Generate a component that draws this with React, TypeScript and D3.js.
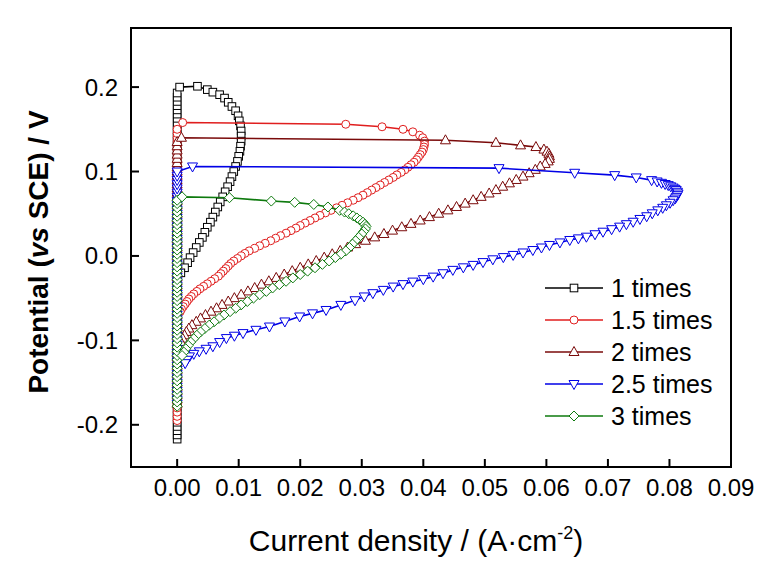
import * as d3 from "d3";

const WIDTH = 768;
const HEIGHT = 566;
const FRAME = { left: 131, right: 731, top: 28, bottom: 467 };
const FONT = "'Liberation Sans', Arial, Helvetica, sans-serif";

const X_DOMAIN: [number, number] = [-0.0075, 0.09];
const Y_DOMAIN: [number, number] = [-0.25, 0.27];
const X_TICKS = [0, 0.01, 0.02, 0.03, 0.04, 0.05, 0.06, 0.07, 0.08, 0.09];
const Y_TICKS = [-0.2, -0.1, 0, 0.1, 0.2];

const LABELS = ["1 times", "1.5 times", "2 times", "2.5 times", "3 times"];
const COLORS = ["#000000", "#e01e1e", "#7a0a0a", "#0000e6", "#0e7a0e"];
const SHAPES = ["square", "circle", "triangle", "triangleDown", "diamond"];

// potentials of the near-zero-current column (x ~ 0), bottom to top
const col1 = [-0.217, -0.212, -0.207, -0.202, -0.197, -0.192, -0.187, -0.182, -0.177, -0.172, -0.167, -0.162, -0.157, -0.152, -0.147, -0.142, -0.137, -0.132, -0.127, -0.122, -0.117, -0.112, -0.107, -0.102, -0.097, -0.092, -0.087, -0.082, -0.077, -0.072, -0.067, -0.062, -0.057, -0.052, -0.047, -0.042, -0.037, -0.032, -0.027, -0.022, -0.017, -0.012, -0.007, -0.002, 0.003, 0.008, 0.013, 0.018, 0.023, 0.028, 0.033, 0.038, 0.043, 0.048, 0.053, 0.058, 0.063, 0.068, 0.073, 0.078, 0.083, 0.088, 0.093, 0.098, 0.103, 0.108, 0.113, 0.118, 0.123, 0.128, 0.133, 0.138, 0.143, 0.148, 0.153, 0.158, 0.163, 0.168, 0.173, 0.178, 0.183, 0.188, 0.193];
const col15 = [-0.195, -0.19, -0.185, -0.18, -0.175, -0.17, -0.165, -0.16, -0.155, -0.15, -0.145, -0.14, -0.135, -0.13, -0.125, -0.12, -0.115, -0.11, -0.105, -0.1, -0.095, -0.09, -0.085, -0.08, -0.075, -0.07, -0.065, -0.06, -0.055, -0.05, -0.045, -0.04, -0.035, -0.03, -0.025, -0.02, -0.015, -0.01, -0.005, 0, 0.005, 0.01, 0.015, 0.02, 0.025, 0.03, 0.035, 0.04, 0.045, 0.05, 0.055, 0.06, 0.065, 0.07, 0.075, 0.08, 0.085, 0.09, 0.095, 0.1, 0.105, 0.11, 0.115, 0.12, 0.125, 0.13, 0.135, 0.14, 0.145, 0.15];
const col2 = [-0.175, -0.17, -0.165, -0.16, -0.155, -0.15, -0.145, -0.14, -0.135, -0.13, -0.125, -0.12, -0.115, -0.11, -0.105, -0.1, -0.095, -0.09, -0.085, -0.08, -0.075, -0.07, -0.065, -0.06, -0.055, -0.05, -0.045, -0.04, -0.035, -0.03, -0.025, -0.02, -0.015, -0.01, -0.005, 0, 0.005, 0.01, 0.015, 0.02, 0.025, 0.03, 0.035, 0.04, 0.045, 0.05, 0.055, 0.06, 0.065, 0.07, 0.075, 0.08, 0.085, 0.09, 0.095, 0.1, 0.105, 0.11, 0.115, 0.12, 0.125, 0.13, 0.135];
const col25 = [-0.175, -0.17, -0.165, -0.16, -0.155, -0.15, -0.145, -0.14, -0.135, -0.13, -0.125, -0.12, -0.115, -0.11, -0.105, -0.1, -0.095, -0.09, -0.085, -0.08, -0.075, -0.07, -0.065, -0.06, -0.055, -0.05, -0.045, -0.04, -0.035, -0.03, -0.025, -0.02, -0.015, -0.01, -0.005, 0, 0.005, 0.01, 0.015, 0.02, 0.025, 0.03, 0.035, 0.04, 0.045, 0.05, 0.055, 0.06, 0.065, 0.07, 0.075, 0.08, 0.085, 0.09, 0.095, 0.1];
const col3 = [-0.178, -0.173, -0.168, -0.163, -0.158, -0.153, -0.148, -0.143, -0.138, -0.133, -0.128, -0.123, -0.118, -0.113, -0.108, -0.103, -0.098, -0.093, -0.088, -0.083, -0.078, -0.073, -0.068, -0.063, -0.058, -0.053, -0.048, -0.043, -0.038, -0.033, -0.028, -0.023, -0.018, -0.013, -0.008, -0.003, 0.002, 0.007, 0.012, 0.017, 0.022, 0.027, 0.032, 0.037, 0.042, 0.047, 0.052, 0.057, 0.062, 0.066];

// the loop after the column: [current density, potential]
const loop1: [number, number][] = [[0.0004, 0.2], [0.0033, 0.201], [0.0049, 0.197], [0.0058, 0.194], [0.0069, 0.191], [0.0077, 0.187], [0.0083, 0.182], [0.0089, 0.177], [0.0095, 0.172], [0.0099, 0.166], [0.0101, 0.16], [0.0103, 0.154], [0.0104, 0.148], [0.0104, 0.142], [0.0104, 0.136], [0.0103, 0.13], [0.0102, 0.124], [0.01, 0.118], [0.0098, 0.112], [0.0095, 0.106], [0.0092, 0.1], [0.0089, 0.094], [0.0086, 0.088], [0.0082, 0.082], [0.0078, 0.076], [0.0074, 0.07], [0.007, 0.064], [0.0066, 0.058], [0.0062, 0.052], [0.0058, 0.046], [0.0054, 0.04], [0.0049, 0.034], [0.0045, 0.028], [0.0041, 0.022], [0.0036, 0.016], [0.0031, 0.01], [0.0026, 0.004], [0.0021, -0.002], [0.0017, -0.008], [0.0012, -0.014], [0.0006, -0.02]];
const loop15: [number, number][] = [[0.0009, 0.158], [0.0274, 0.156], [0.0333, 0.153], [0.0367, 0.15], [0.0383, 0.147], [0.0394, 0.143], [0.0399, 0.14], [0.0402, 0.136], [0.0402, 0.132], [0.0401, 0.129], [0.04, 0.126], [0.0398, 0.123], [0.0395, 0.12], [0.0392, 0.117], [0.0389, 0.114], [0.0385, 0.111], [0.038, 0.108], [0.0375, 0.105], [0.037, 0.102], [0.0364, 0.099], [0.0357, 0.096], [0.0351, 0.093], [0.0344, 0.09], [0.0337, 0.087], [0.033, 0.084], [0.0323, 0.081], [0.0316, 0.078], [0.0309, 0.075], [0.0302, 0.072], [0.0294, 0.069], [0.0286, 0.066], [0.0277, 0.063], [0.0268, 0.06], [0.0259, 0.057], [0.025, 0.054], [0.0241, 0.051], [0.0232, 0.048], [0.0224, 0.045], [0.0216, 0.042], [0.0208, 0.039], [0.02, 0.036], [0.0193, 0.033], [0.0185, 0.03], [0.0177, 0.027], [0.0168, 0.024], [0.016, 0.021], [0.0152, 0.018], [0.0143, 0.015], [0.0134, 0.012], [0.0126, 0.009], [0.0117, 0.006], [0.011, 0.003], [0.0104, 0], [0.0098, -0.003], [0.0092, -0.006], [0.0087, -0.009], [0.0083, -0.012], [0.0079, -0.015], [0.0075, -0.018], [0.0071, -0.021], [0.0067, -0.024], [0.0061, -0.027], [0.0055, -0.03], [0.0049, -0.033], [0.0043, -0.036], [0.0037, -0.039], [0.0032, -0.042], [0.0027, -0.045], [0.0023, -0.048], [0.0019, -0.051], [0.0016, -0.054], [0.0013, -0.057], [0.001, -0.06], [0.0007, -0.063], [0.0005, -0.066]];
const loop2: [number, number][] = [[0.0007, 0.14], [0.0436, 0.137], [0.0518, 0.134], [0.0558, 0.131], [0.0583, 0.129], [0.0596, 0.126], [0.0601, 0.1235], [0.0604, 0.121], [0.0605, 0.118], [0.0605, 0.115], [0.0603, 0.112], [0.0598, 0.109], [0.059, 0.106], [0.0582, 0.102], [0.0572, 0.098], [0.0562, 0.094], [0.0551, 0.09], [0.054, 0.086], [0.0529, 0.082], [0.0518, 0.078], [0.0507, 0.074], [0.0494, 0.07], [0.0481, 0.066], [0.0468, 0.062], [0.0454, 0.058], [0.044, 0.054], [0.0425, 0.05], [0.041, 0.046], [0.0395, 0.042], [0.038, 0.038], [0.0365, 0.034], [0.035, 0.03], [0.0336, 0.026], [0.0321, 0.022], [0.0306, 0.018], [0.029, 0.014], [0.0277, 0.01], [0.0265, 0.006], [0.0252, 0.002], [0.0239, -0.002], [0.0226, -0.006], [0.0213, -0.01], [0.02, -0.014], [0.0187, -0.018], [0.0174, -0.022], [0.0161, -0.026], [0.0149, -0.03], [0.0137, -0.034], [0.0126, -0.038], [0.0115, -0.042], [0.0104, -0.046], [0.0093, -0.05], [0.0083, -0.054], [0.0073, -0.058], [0.0064, -0.062], [0.0055, -0.066], [0.0046, -0.07], [0.0038, -0.074], [0.0031, -0.078], [0.0024, -0.082], [0.0019, -0.086], [0.0015, -0.09], [0.0012, -0.094], [0.0009, -0.098], [0.0006, -0.102]];
const loop25: [number, number][] = [[0.0025, 0.106], [0.0523, 0.104], [0.0646, 0.0985], [0.0711, 0.0957], [0.0746, 0.093], [0.0771, 0.0898], [0.078, 0.0882], [0.0787, 0.0866], [0.0793, 0.0852], [0.0798, 0.0839], [0.0802, 0.0825], [0.0806, 0.081], [0.0809, 0.0795], [0.0811, 0.078], [0.0813, 0.076], [0.0814, 0.074], [0.0813, 0.072], [0.0811, 0.07], [0.0809, 0.068], [0.0806, 0.066], [0.0801, 0.063], [0.0795, 0.06], [0.0789, 0.057], [0.0781, 0.054], [0.0772, 0.0505], [0.0763, 0.047], [0.0752, 0.0438], [0.0741, 0.0405], [0.073, 0.0376], [0.0719, 0.0347], [0.0706, 0.0317], [0.0692, 0.0287], [0.0679, 0.0257], [0.0665, 0.0228], [0.0652, 0.0208], [0.0638, 0.0189], [0.0622, 0.016], [0.0605, 0.013], [0.0592, 0.01], [0.0578, 0.007], [0.0562, 0.0041], [0.0546, 0.0012], [0.053, -0.0014], [0.0513, -0.004], [0.0497, -0.0073], [0.0481, -0.0106], [0.0465, -0.0135], [0.0448, -0.0165], [0.0432, -0.0205], [0.0416, -0.0245], [0.04, -0.0275], [0.0383, -0.0304], [0.0367, -0.0334], [0.0351, -0.0363], [0.0335, -0.0402], [0.0318, -0.0441], [0.0304, -0.048], [0.0289, -0.0525], [0.0266, -0.058], [0.0242, -0.064], [0.022, -0.068], [0.0199, -0.0717], [0.0175, -0.0776], [0.015, -0.0836], [0.0128, -0.0875], [0.0107, -0.0914], [0.0093, -0.0945], [0.008, -0.0973], [0.0069, -0.102], [0.0058, -0.107], [0.0047, -0.11], [0.0036, -0.113], [0.0027, -0.116], [0.002, -0.119], [0.0016, -0.123], [0.0013, -0.127]];
const loop3: [number, number][] = [[0.0008, 0.07], [0.0085, 0.069], [0.0153, 0.065], [0.0191, 0.0635], [0.0222, 0.061], [0.0245, 0.058], [0.0264, 0.054], [0.0272, 0.052], [0.0279, 0.05], [0.0286, 0.0475], [0.0292, 0.045], [0.0297, 0.0425], [0.0302, 0.04], [0.0305, 0.0375], [0.0307, 0.035], [0.0306, 0.032], [0.0303, 0.029], [0.03, 0.026], [0.0295, 0.022], [0.029, 0.018], [0.0285, 0.014], [0.028, 0.01], [0.0274, 0.006], [0.0266, 0.002], [0.0257, -0.002], [0.0247, -0.006], [0.0236, -0.01], [0.0224, -0.014], [0.0212, -0.018], [0.02, -0.022], [0.0188, -0.026], [0.0177, -0.03], [0.0166, -0.034], [0.0155, -0.038], [0.0145, -0.042], [0.0134, -0.046], [0.0124, -0.05], [0.0114, -0.054], [0.0104, -0.058], [0.0095, -0.062], [0.0086, -0.066], [0.0076, -0.07], [0.0068, -0.074], [0.006, -0.078], [0.0052, -0.082], [0.0045, -0.086], [0.0038, -0.09], [0.0032, -0.094], [0.0027, -0.098], [0.0022, -0.102], [0.0018, -0.106], [0.0014, -0.11], [0.0011, -0.114], [0.0008, -0.118]];

const COLUMNS = [col1, col15, col2, col25, col3];
const LOOPS = [loop1, loop15, loop2, loop25, loop3];

function Marker({ shape, x, y, color }: { shape: string; x: number; y: number; color: string }) {
  const common = { fill: "#fff", stroke: color, strokeWidth: 1 };
  if (shape === "square") return <rect x={x - 3.8} y={y - 3.8} width={7.6} height={7.6} {...common} />;
  if (shape === "circle") return <circle cx={x} cy={y} r={4} {...common} />;
  if (shape === "triangle")
    return <polygon points={`${x},${y - 5.5} ${x + 5},${y + 3.5} ${x - 5},${y + 3.5}`} {...common} />;
  if (shape === "triangleDown")
    return <polygon points={`${x},${y + 5.5} ${x + 5},${y - 3.5} ${x - 5},${y - 3.5}`} {...common} />;
  return <polygon points={`${x},${y - 5} ${x + 5},${y} ${x},${y + 5} ${x - 5},${y}`} {...common} />;
}

export default function App() {
  const x = d3.scaleLinear().domain(X_DOMAIN).range([FRAME.left, FRAME.right]);
  const y = d3.scaleLinear().domain(Y_DOMAIN).range([FRAME.bottom, FRAME.top]);

  const series = LABELS.map((label, i) => ({
    label,
    color: COLORS[i],
    shape: SHAPES[i],
    points: [...COLUMNS[i].map((v) => [0, v] as [number, number]), ...LOOPS[i]],
  }));

  const line = d3.line<[number, number]>().x((d) => x(d[0])).y((d) => y(d[1]));

  return (
    <svg width={WIDTH} height={HEIGHT} style={{ position: "absolute", left: 0, top: 0, background: "#fff" }}
      fontFamily={FONT}>
      <rect width={WIDTH} height={HEIGHT} fill="#fff" />

      {/* series */}
      {series.map((s) => (
        <g key={s.label}>
          <path d={line(s.points) ?? ""} fill="none" stroke={s.color} strokeWidth={1.6} />
          {s.points.map((p, j) => (
            <Marker key={j} shape={s.shape} x={x(p[0])} y={y(p[1])} color={s.color} />
          ))}
        </g>
      ))}

      {/* frame */}
      <rect x={FRAME.left} y={FRAME.top} width={FRAME.right - FRAME.left} height={FRAME.bottom - FRAME.top}
        fill="none" stroke="#000" strokeWidth={2} />

      {/* x axis */}
      {X_TICKS.map((t) => (
        <g key={t}>
          <line x1={x(t)} x2={x(t)} y1={FRAME.bottom} y2={FRAME.bottom - 8} stroke="#000" strokeWidth={2} />
          <text x={x(t)} y={496} fontSize={24} textAnchor="middle">{t.toFixed(2)}</text>
        </g>
      ))}

      {/* y axis */}
      {Y_TICKS.map((t) => (
        <g key={t}>
          <line x1={FRAME.left} x2={FRAME.left + 8} y1={y(t)} y2={y(t)} stroke="#000" strokeWidth={2} />
          <text x={118} y={y(t) + 8.5} fontSize={24} textAnchor="end">{t.toFixed(1)}</text>
        </g>
      ))}

      <text x={416} y={551} fontSize={30} textAnchor="middle">
        Current density / (A·cm<tspan dy={-12} fontSize={18}>-2</tspan><tspan dy={12}>)</tspan>
      </text>
      <text transform="translate(48,252) rotate(-90)" fontSize={28} fontWeight="bold" textAnchor="middle">
        Potential (<tspan fontStyle="italic">vs</tspan> SCE) / V
      </text>

      {/* legend */}
      {series.map((s, i) => {
        const cy = 288 + i * 32;
        return (
          <g key={s.label}>
            <line x1={545} x2={603} y1={cy} y2={cy} stroke={s.color} strokeWidth={1.6} />
            <Marker shape={s.shape} x={574} y={cy} color={s.color} />
            <text x={611} y={cy + 9} fontSize={25}>{s.label}</text>
          </g>
        );
      })}
    </svg>
  );
}
